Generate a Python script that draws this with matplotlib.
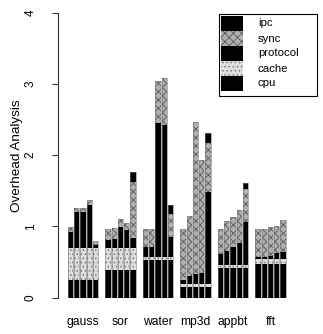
import matplotlib
matplotlib.use("Agg")
import matplotlib.pyplot as plt
import matplotlib.patches as mpatches
import numpy as np

plt.rcParams['font.family'] = ['Liberation Sans', 'DejaVu Sans']
plt.rcParams['hatch.linewidth'] = 0.6

groups = ['gauss', 'sor', 'water', 'mp3d', 'appbt', 'fft']
components = ['cpu', 'cache', 'protocol', 'sync', 'ipc']
legend_order = ['ipc', 'sync', 'protocol', 'cache', 'cpu']

# five bars per group
cpu = [0.25, 0.25, 0.25, 0.25, 0.25,
       0.39, 0.39, 0.39, 0.39, 0.39,
       0.53, 0.53, 0.53, 0.53, 0.53,
       0.15, 0.15, 0.15, 0.15, 0.15,
       0.41, 0.41, 0.41, 0.41, 0.41,
       0.47, 0.47, 0.47, 0.47, 0.47]
cache = [0.45, 0.45, 0.45, 0.45, 0.45,
         0.31, 0.31, 0.31, 0.31, 0.31,
         0.04, 0.04, 0.04, 0.04, 0.04,
         0.04, 0.04, 0.04, 0.04, 0.04,
         0.05, 0.05, 0.05, 0.05, 0.05,
         0.07, 0.07, 0.07, 0.07, 0.07]
protocol = [0.22, 0.50, 0.50, 0.60, 0.04,
            0.11, 0.12, 0.29, 0.25, 0.14,
            0.14, 0.14, 1.89, 1.86, 0.28,
            0.06, 0.11, 0.14, 0.15, 1.29,
            0.15, 0.19, 0.25, 0.30, 0.60,
            0.03, 0.03, 0.04, 0.08, 0.10]
sync = [0.07, 0.06, 0.06, 0.07, 0.06,
        0.15, 0.16, 0.11, 0.10, 0.78,
        0.25, 0.25, 0.59, 0.66, 0.32,
        0.71, 0.85, 2.14, 1.59, 0.69,
        0.36, 0.42, 0.42, 0.47, 0.46,
        0.39, 0.40, 0.41, 0.38, 0.45]
ipc = [0.00, 0.00, 0.00, 0.00, 0.00,
       0.00, 0.00, 0.00, 0.00, 0.15,
       0.00, 0.00, 0.00, 0.00, 0.13,
       0.00, 0.00, 0.00, 0.00, 0.14,
       0.00, 0.00, 0.00, 0.00, 0.09,
       0.00, 0.00, 0.00, 0.00, 0.00]

yticks = [0, 1, 2, 3, 4]

W, H = 323, 334
fig = plt.figure(figsize=(W / 100, H / 100), dpi=100)
ax = fig.add_axes([58 / W, (H - 297.5) / H, (310 - 58) / W, (297.5 - 13) / H])


def fx(px):
    return px / W


def fy(py):
    return 1 - py / H


nb = 5
x = np.array([g * 6 + i for g in range(len(groups)) for i in range(nb)], dtype=float)

styles = {
    'cpu': dict(facecolor='black', hatch=None, hc='black'),
    'cache': dict(facecolor='#dedede', hatch='....', hc='#7c7c7c'),
    'protocol': dict(facecolor='black', hatch=None, hc='black'),
    'sync': dict(facecolor='#b0b0b0', hatch='xxxx', hc='#585858'),
    'ipc': dict(facecolor='black', hatch=None, hc='black'),
}
data = {'cpu': cpu, 'cache': cache, 'protocol': protocol, 'sync': sync, 'ipc': ipc}

bottom = np.zeros(len(x))
width = 0.84
for comp in components:
    vals = np.array(data[comp])
    st = styles[comp]
    ax.bar(x, vals, width=width, bottom=bottom, color=st['facecolor'],
           edgecolor=st['hc'], hatch=st['hatch'], linewidth=0)
    bottom += vals
# thin grey outlines of whole bars
ax.bar(x, bottom, width=width, bottom=0, facecolor='none', edgecolor='#777777', linewidth=0.4)

ax.set_xlim(-2.0, 38.3)
ax.set_ylim(0, 4)
for s in ['top', 'right', 'bottom']:
    ax.spines[s].set_visible(False)
ax.spines['left'].set_bounds(0, 4)
ax.spines['left'].set_linewidth(0.8)
ax.spines['left'].set_color('#333333')
ax.set_xticks([])
ax.set_yticks(yticks)
ax.set_yticklabels([str(t) for t in yticks], rotation=90, va='center', fontsize=8.5)
ax.tick_params(axis='y', length=4.3, width=0.8, pad=11, color='#333333')

for g, name in enumerate(groups):
    ax.text(g * 6 + 2, -0.345, name, ha='center', va='center', fontsize=8.7, clip_on=False)

fig.text(fx(17), fy(156), 'Overhead Analysis', rotation=90, ha='center', va='center', fontsize=9.7)

# legend drawn by hand: framed box with contiguous stacked swatches
box_l, box_r, box_t, box_b = 219, 317, 14, 96
fig.add_artist(mpatches.Rectangle((fx(box_l), fy(box_b)), fx(box_r - box_l), (box_b - box_t) / H,
                                  transform=fig.transFigure, facecolor='white',
                                  edgecolor='black', linewidth=0.8))
row_h = 15
sw_l, sw_r, sw_t = 221, 243, 15.5
for k, comp in enumerate(legend_order):
    st = styles[comp]
    top = sw_t + k * row_h
    fig.add_artist(mpatches.Rectangle((fx(sw_l), fy(top + row_h)), fx(sw_r - sw_l), row_h / H,
                                      transform=fig.transFigure, facecolor=st['facecolor'],
                                      edgecolor=st['hc'], hatch=st['hatch'], linewidth=0))
    fig.text(fx(258), fy(top + row_h / 2 + 0.5), comp, ha='left', va='center', fontsize=8.2)

fig.savefig('out.png', dpi=100)
